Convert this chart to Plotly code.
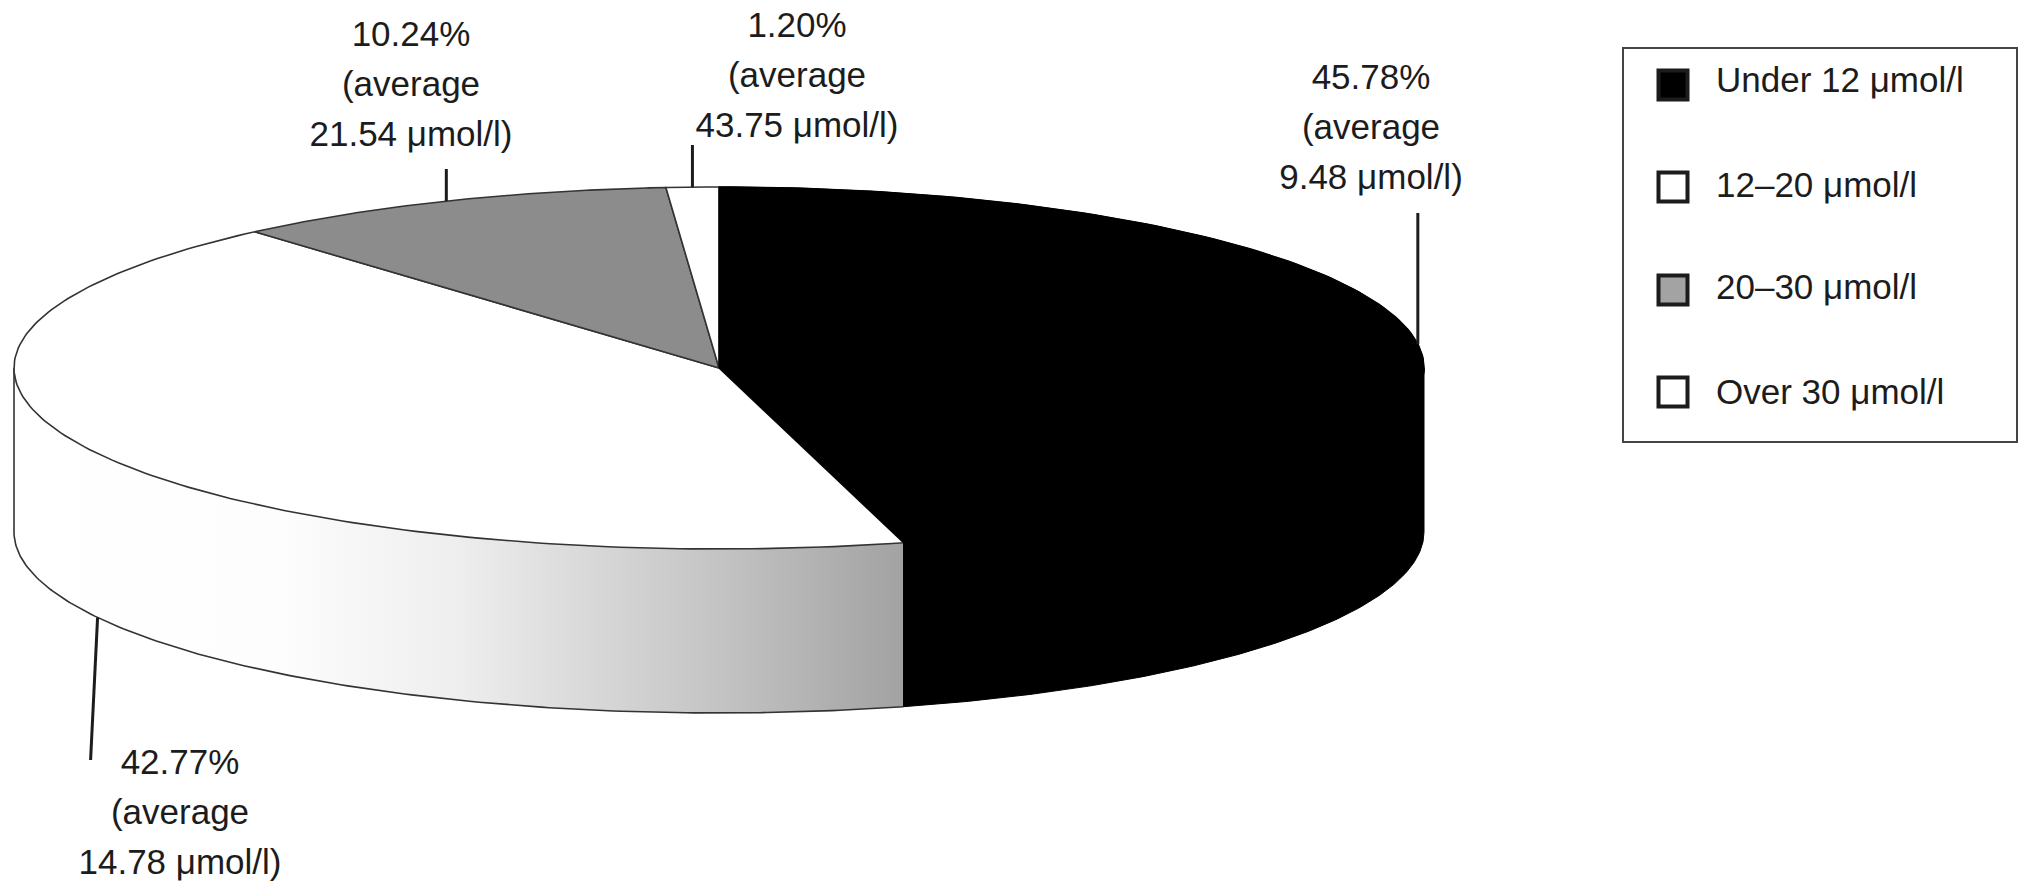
from __future__ import annotations

import numpy as np
import plotly.graph_objects as go

# shares run clockwise from 12 o'clock
CATEGORIES = ["Under 12 μmol/l", "12–20 μmol/l", "20–30 μmol/l", "Over 30 μmol/l"]
SHARES = [45.78, 42.77, 10.24, 1.20]
AVERAGES = [9.48, 14.78, 21.54, 43.75]
TOP_COLORS = ["#000000", "#ffffff", "#8c8c8c", "#ffffff"]
SWATCH_COLORS = ["#000000", "#ffffff", "#a3a3a3", "#ffffff"]

# pie drawn on a pixel-sized axis
CX, CY = 719, 368
RX, RY = 705, 181
DEPTH = 164
WIDTH, HEIGHT = 2031, 896
INK = "#1c1c1c"
FONT = "Liberation Sans"
FONT_SIZE = 35

LABEL_X = [1371, 180, 411, 797]
LABEL_Y = [80, 765, 37, 28]
LEADER_END = [213, 760, 169, 145]
LEGEND_MARKER_Y = [85, 187, 290, 392]
LEGEND_TEXT_Y = [83, 188, 290, 395]

total = sum(SHARES)
edges = np.cumsum([0.0] + [s / total * 360 for s in SHARES])


def arc(start: float, stop: float, drop: float = 0.0) -> tuple[np.ndarray, np.ndarray]:
    """Points on the pie rim between two clockwise angles, in degrees."""
    t = np.radians(np.linspace(start, stop, 160))
    return CX + RX * np.sin(t), CY - RY * np.cos(t) + drop


def side_face(start: float, stop: float) -> tuple[np.ndarray, np.ndarray]:
    x_top, y_top = arc(start, stop)
    x_low, y_low = arc(stop, start, DEPTH)
    return np.r_[x_top, x_low, x_top[0]], np.r_[y_top, y_low, y_top[0]]


fig = go.Figure()

# rim of the black slice, only the part that faces the viewer
x, y = side_face(90, edges[1])
fig.add_trace(go.Scatter(x=x, y=y, mode="lines", fill="toself", fillcolor="#000000", line=dict(color="#000000", width=1)))

# rim of the 12-20 slice, shaded from grey to white
x, y = side_face(edges[1], 270)
fig.add_trace(
    go.Scatter(
        x=x,
        y=y,
        mode="lines",
        fill="toself",
        fillgradient=dict(
            type="horizontal",
            colorscale=[
                [0, "#ffffff"],
                [0.3, "#fdfdfd"],
                [0.5, "#eeeeee"],
                [0.65, "#d8d8d8"],
                [0.79, "#c4c4c4"],
                [1, "#a2a2a2"],
            ],
        ),
        line=dict(color="rgba(0,0,0,0)", width=0),
    )
)

# lower edge and left edge of the shaded rim
x, y = arc(edges[1], 270, DEPTH)
fig.add_trace(go.Scatter(x=np.r_[x, x[-1]], y=np.r_[y, CY], mode="lines", line=dict(color="#333333", width=1.6)))

# top faces
for i, color in enumerate(TOP_COLORS):
    x, y = arc(edges[i], edges[i + 1])
    outline = "#000000" if i == 0 else "#333333"
    fig.add_trace(
        go.Scatter(
            x=np.r_[CX, x, CX],
            y=np.r_[CY, y, CY],
            mode="lines",
            fill="toself",
            fillcolor=color,
            line=dict(color=outline, width=1.6),
        )
    )

# the 12-20 / black boundary has no dark stroke on the white side, black slice goes back on top
x, y = arc(edges[0], edges[1])
fig.add_trace(go.Scatter(x=np.r_[CX, x, CX], y=np.r_[CY, y, CY], mode="lines", fill="toself", fillcolor="#000000", line=dict(color="#000000", width=1)))

# vertical seam where the black rim meets the shaded rim
x, y = arc(edges[1], edges[1])
fig.add_trace(go.Scatter(x=[x[0], x[0]], y=[y[0], y[0] + DEPTH], mode="lines", line=dict(color="#000000", width=1)))

# leader lines and their labels
mids = (edges[:-1] + edges[1:]) / 2
for i, mid in enumerate(mids):
    x0 = CX + RX * np.sin(np.radians(mid))
    y0 = CY - RY * np.cos(np.radians(mid)) + (DEPTH if np.cos(np.radians(mid)) < 0 else 0)
    x1 = x0 - 7 if np.cos(np.radians(mid)) < 0 else x0
    fig.add_trace(go.Scatter(x=[x0, x1], y=[y0, LEADER_END[i]], mode="lines", line=dict(color=INK, width=3)))
    lines = [f"{SHARES[i]:.2f}%", "(average", f"{AVERAGES[i]:.2f} μmol/l)"]
    fig.add_trace(
        go.Scatter(
            x=[LABEL_X[i]] * 3,
            y=[LABEL_Y[i] + 50 * k for k in range(3)],
            mode="text",
            text=lines,
            textposition="middle center",
            textfont=dict(family=FONT, size=FONT_SIZE, color=INK),
        )
    )

# legend
fig.add_shape(type="rect", x0=1623, x1=2017, y0=48, y1=442, line=dict(color="#444444", width=2), fillcolor="#ffffff", layer="below")
fig.add_trace(
    go.Scatter(
        x=[1673] * 4,
        y=LEGEND_MARKER_Y,
        mode="markers",
        marker=dict(symbol="square", size=29, color=SWATCH_COLORS, line=dict(color=INK, width=4)),
    )
)
fig.add_trace(
    go.Scatter(
        x=[1716] * 4,
        y=LEGEND_TEXT_Y,
        mode="text",
        text=CATEGORIES,
        textposition="middle right",
        textfont=dict(family=FONT, size=FONT_SIZE, color=INK),
    )
)

fig.update_traces(hoverinfo="skip", cliponaxis=False)
fig.update_layout(
    width=WIDTH,
    height=HEIGHT,
    margin=dict(l=0, r=0, t=0, b=0),
    plot_bgcolor="#ffffff",
    paper_bgcolor="#ffffff",
    showlegend=False,
    xaxis=dict(range=[0, WIDTH], visible=False, fixedrange=True),
    yaxis=dict(range=[HEIGHT, 0], visible=False, fixedrange=True),
)
fig.write_html("out.html", config={"displayModeBar": False}, post_script="document.body.style.margin='0';")
